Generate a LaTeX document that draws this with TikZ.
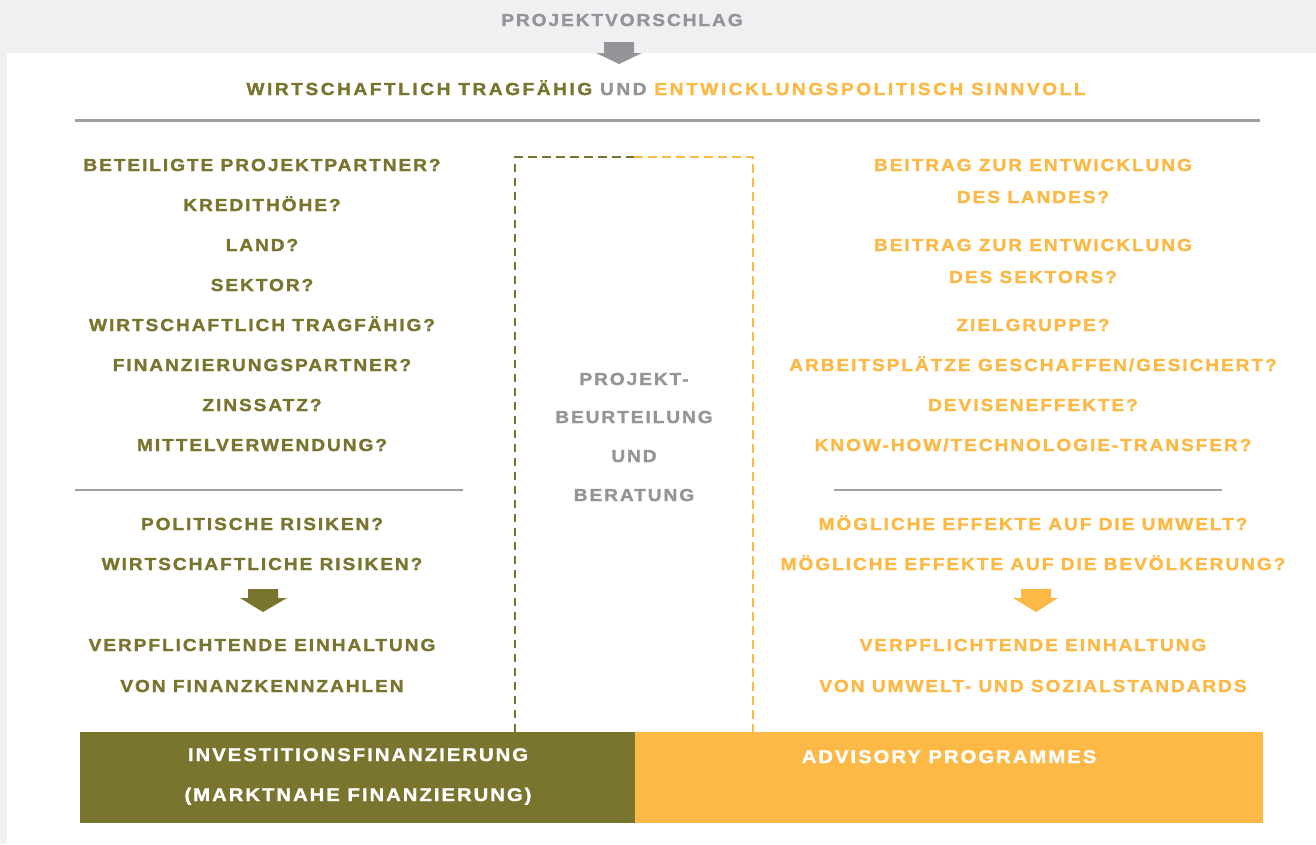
\documentclass[tikz,border=0pt]{standalone}
\usepackage{fontspec}
\setmainfont{Liberation Sans}
\newfontfamily\bodyfont{Liberation Sans}[UprightFont={* Bold}, LetterSpace=11, FakeStretch=1.1, FakeBold=1.5]
\newfontfamily\headfont{Liberation Sans}[UprightFont={* Bold}, LetterSpace=14.5, FakeStretch=1.1, FakeBold=1.5]

\definecolor{kfolive}{RGB}{121,117,47}
\definecolor{kforange}{RGB}{252,185,69}
\definecolor{kfgray}{RGB}{147,149,152}
\definecolor{kfrule}{RGB}{157,159,162}
\definecolor{kfband}{RGB}{239,240,242}

\tikzset{
  lbl/.style={font=\bodyfont\fontsize{17.4}{20}\selectfont, anchor=base, inner sep=0pt},
  oltext/.style={lbl, text=kfolive},
  ortext/.style={lbl, text=kforange},
  grtext/.style={lbl, text=kfgray},
  bartext/.style={lbl, text=white, font=\bodyfont\fontsize{18.4}{21}\selectfont},
  rule/.style={draw=kfrule, line width=2pt},
  dashedge/.style={line width=2.4pt, dash pattern=on 8.5pt off 5.5pt},
}

\begin{document}
\begin{tikzpicture}[x=1pt,y=-1pt]
\useasboundingbox (0,0) rectangle (1316,844);

% background: grey frame with the white sheet
\fill[kfband] (0,0) rectangle (1316,844);
\fill[white] (7,53) rectangle (1316,844);

% header
\node[grtext] (proposal) at (622,26) {PROJEKTVORSCHLAG};
\fill[kfgray] (604,42) -- (634,42) -- (634,53) -- (642,53) -- (619,64) -- (596,53) -- (604,53) -- cycle;
\node[lbl, font=\headfont\fontsize{17.4}{20}\selectfont] (title) at (666,95)
  {\textcolor{kfolive}{WIRTSCHAFTLICH TRAGFÄHIG} \textcolor{kfgray}{UND} \textcolor{kforange}{ENTWICKLUNGSPOLITISCH SINNVOLL}};
\coordinate (topruleL) at (75,120);
\coordinate (topruleR) at (1260,120);
\draw[rule, line width=3pt] (topruleL) -- (topruleR);

% left column: economic viability
\node[oltext] (l1) at (262,171) {BETEILIGTE PROJEKTPARTNER?};
\node[oltext] (l2) at (262,211) {KREDITHÖHE?};
\node[oltext] (l3) at (262,251) {LAND?};
\node[oltext] (l4) at (262,291) {SEKTOR?};
\node[oltext] (l5) at (262,331) {WIRTSCHAFTLICH TRAGFÄHIG?};
\node[oltext] (l6) at (262,371) {FINANZIERUNGSPARTNER?};
\node[oltext] (l7) at (262,411) {ZINSSATZ?};
\node[oltext] (l8) at (262,451) {MITTELVERWENDUNG?};
\coordinate (lruleL) at (75,490);
\coordinate (lruleR) at (463,490);
\draw[rule] (lruleL) -- (lruleR);
\node[oltext] (l9) at (262,530) {POLITISCHE RISIKEN?};
\node[oltext] (l10) at (262,570) {WIRTSCHAFTLICHE RISIKEN?};
\fill[kfolive] (248,589) -- (278,589) -- (278,598) -- (287,598) -- (263,612) -- (240,598) -- (248,598) -- cycle;
\node[oltext] (l11) at (262,651) {VERPFLICHTENDE EINHALTUNG};
\node[oltext] (l12) at (262,692) {VON FINANZKENNZAHLEN};

% right column: development impact
\node[ortext] (r1) at (1033,171) {BEITRAG ZUR ENTWICKLUNG};
\node[ortext] (r2) at (1033,203) {DES LANDES?};
\node[ortext] (r3) at (1033,251) {BEITRAG ZUR ENTWICKLUNG};
\node[ortext] (r4) at (1033,283) {DES SEKTORS?};
\node[ortext] (r5) at (1033,331) {ZIELGRUPPE?};
\node[ortext] (r6) at (1033,371) {ARBEITSPLÄTZE GESCHAFFEN/GESICHERT?};
\node[ortext] (r7) at (1033,411) {DEVISENEFFEKTE?};
\node[ortext] (r8) at (1033,451) {KNOW-HOW/TECHNOLOGIE-TRANSFER?};
\coordinate (rruleL) at (834,490);
\coordinate (rruleR) at (1222,490);
\draw[rule] (rruleL) -- (rruleR);
\node[ortext] (r9) at (1033,530) {MÖGLICHE EFFEKTE AUF DIE UMWELT?};
\node[ortext] (r10) at (1033,570) {MÖGLICHE EFFEKTE AUF DIE BEVÖLKERUNG?};
\fill[kforange] (1021,589) -- (1051,589) -- (1051,598) -- (1058,598) -- (1036,612) -- (1013,598) -- (1021,598) -- cycle;
\node[ortext] (r11) at (1033,651) {VERPFLICHTENDE EINHALTUNG};
\node[ortext] (r12) at (1033,692) {VON UMWELT- UND SOZIALSTANDARDS};

% centre: dashed assessment frame
\coordinate (boxBL) at (515,732);
\coordinate (boxTL) at (515,157);
\coordinate (boxTM) at (634,157);
\coordinate (boxTR) at (753,157);
\coordinate (boxBR) at (753,732);
\draw[dashedge, draw=kfolive] (boxBL) -- (boxTL) -- (boxTM);
\draw[dashedge, draw=kforange] (boxTM) -- (boxTR) -- (boxBR);
\node[grtext] (c1) at (634,385) {PROJEKT-};
\node[grtext] (c2) at (634,423) {BEURTEILUNG};
\node[grtext] (c3) at (634,462) {UND};
\node[grtext] (c4) at (634,501) {BERATUNG};

% bottom bars
\fill[kfolive] (80,732) rectangle (635,823);
\fill[kforange] (635,732) rectangle (1263,823);
\node[bartext] (b1) at (358,761) {INVESTITIONSFINANZIERUNG};
\node[bartext] (b2) at (358,801) {(MARKTNAHE FINANZIERUNG)};
\node[bartext] (b3) at (949,763) {ADVISORY PROGRAMMES};
\end{tikzpicture}
\end{document}
